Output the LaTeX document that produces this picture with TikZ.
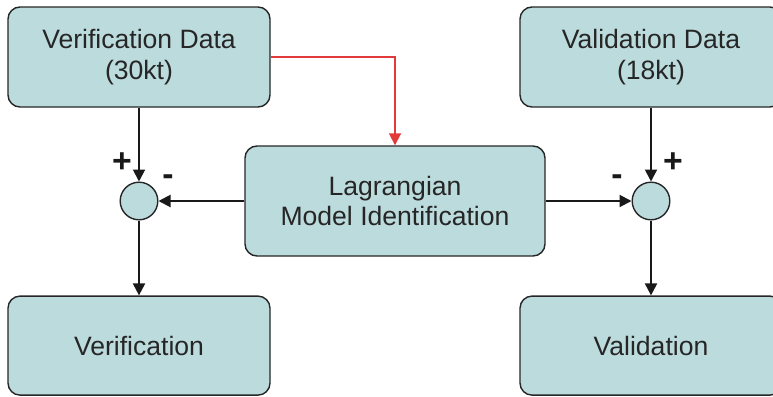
\documentclass[tikz,border=0pt]{standalone}
\usepackage{fontspec}
\setmainfont{Liberation Sans}
\usetikzlibrary{arrows.meta}
\definecolor{boxfill}{RGB}{188,219,221}
\definecolor{redline}{RGB}{226,58,58}
\tikzset{
	blok/.style={draw=black!85, line width=1pt, fill=boxfill, rounded corners=0.3cm,
		minimum width=6.55cm, minimum height=2.5cm, align=center,
		font=\fontsize{18.9}{22}\selectfont, text=black!85},
	somma/.style={draw=black!85, line width=1pt, fill=boxfill, circle,
		minimum size=0.94cm, inner sep=0pt},
	freccia/.style={-{Triangle[length=0.3cm,width=0.3cm]}, line width=1.4pt, draw=black!90},
	segno/.style={font=\fontsize{24}{24}\selectfont\bfseries, text=black!90}
}
\begin{document}
\begin{tikzpicture}
		\path[use as bounding box, clip] (0,0) rectangle (19.325,-9.9);

		\node[blok] (vdata) at (3.475,-1.425) {Verification Data\\(30kt)};
		\node[blok] (valdata) at (16.275,-1.425) {Validation Data\\(18kt)};
		\node[blok, minimum width=7.5cm, minimum height=2.75cm] (lagr) at (9.875,-5.025) {Lagrangian\\Model Identification};
		\node[blok, minimum height=2.475cm] (verif) at (3.475,-8.64) {Verification};
		\node[blok, minimum height=2.475cm] (valid) at (16.275,-8.64) {Validation};

		\node[somma] (sumL) at (3.475,-5.025) {};
		\node[somma] (sumR) at (16.275,-5.025) {};

		\draw[freccia] (vdata) -- (sumL);
		\draw[freccia] (sumL) -- (verif);
		\draw[freccia] (lagr) -- (sumL);
		\draw[freccia] (lagr) -- (sumR);
		\draw[freccia] (valdata) -- (sumR);
		\draw[freccia] (sumR) -- (valid);
		\draw[freccia, draw=redline, line width=1.3pt] (vdata.east) -| (lagr.north);

		\node[segno] (piuL) at (3.05,-4.075) {+};
		\node[segno] (menoL) at (4.2,-4.5) {-};
		\node[segno] (menoR) at (15.425,-4.5) {-};
		\node[segno] (piuR) at (16.825,-4.075) {+};
	\end{tikzpicture}
\end{document}
